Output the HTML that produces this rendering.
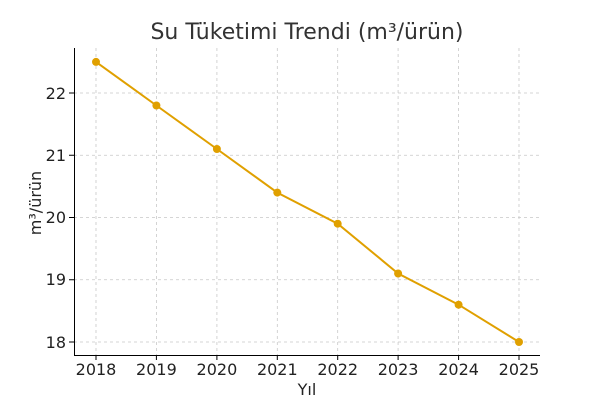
<!DOCTYPE html>
<html><head><meta charset="utf-8"><style>body{margin:0;background:#fff}svg{display:block}</style></head>
<body>
<svg width="600" height="400" xmlns="http://www.w3.org/2000/svg" font-family="DejaVu Sans, Liberation Sans, sans-serif">
<rect width="600" height="400" fill="#fff"/>
<g stroke="#c8c8c8" stroke-width="0.8" stroke-dasharray="3,3">
<line x1="96" y1="48" x2="96" y2="355"/><line x1="156.4" y1="48" x2="156.4" y2="355"/><line x1="216.9" y1="48" x2="216.9" y2="355"/><line x1="277.3" y1="48" x2="277.3" y2="355"/><line x1="337.7" y1="48" x2="337.7" y2="355"/><line x1="398.1" y1="48" x2="398.1" y2="355"/><line x1="458.6" y1="48" x2="458.6" y2="355"/><line x1="519" y1="48" x2="519" y2="355"/>
<line x1="74" y1="93" x2="540" y2="93"/><line x1="74" y1="155.25" x2="540" y2="155.25"/><line x1="74" y1="217.5" x2="540" y2="217.5"/><line x1="74" y1="279.75" x2="540" y2="279.75"/><line x1="74" y1="342" x2="540" y2="342"/>
</g>
<g stroke="#000" stroke-width="1">
<line x1="74.5" y1="48" x2="74.5" y2="355.5"/><line x1="74" y1="355.5" x2="540" y2="355.5"/>
<line x1="96" y1="355" x2="96" y2="360"/><line x1="156.4" y1="355" x2="156.4" y2="360"/><line x1="216.9" y1="355" x2="216.9" y2="360"/><line x1="277.3" y1="355" x2="277.3" y2="360"/><line x1="337.7" y1="355" x2="337.7" y2="360"/><line x1="398.1" y1="355" x2="398.1" y2="360"/><line x1="458.6" y1="355" x2="458.6" y2="360"/><line x1="519" y1="355" x2="519" y2="360"/>
<line x1="69" y1="93" x2="74" y2="93"/><line x1="69" y1="155.25" x2="74" y2="155.25"/><line x1="69" y1="217.5" x2="74" y2="217.5"/><line x1="69" y1="279.75" x2="74" y2="279.75"/><line x1="69" y1="342" x2="74" y2="342"/>
</g>
<polyline fill="none" stroke="#e0a000" stroke-width="2" points="96,61.9 156.4,105.5 216.9,149 277.3,192.6 337.7,223.7 398.1,273.5 458.6,304.7 519,342"/>
<g fill="#e0a000">
<circle cx="96" cy="61.9" r="4"/><circle cx="156.4" cy="105.5" r="4"/><circle cx="216.9" cy="149" r="4"/><circle cx="277.3" cy="192.6" r="4"/><circle cx="337.7" cy="223.7" r="4"/><circle cx="398.1" cy="273.5" r="4"/><circle cx="458.6" cy="304.7" r="4"/><circle cx="519" cy="342" r="4"/>
</g>
<g font-size="16" fill="#222" text-anchor="middle">
<text x="96" y="375">2018</text><text x="156.4" y="375">2019</text><text x="216.9" y="375">2020</text><text x="277.3" y="375">2021</text><text x="337.7" y="375">2022</text><text x="398.1" y="375">2023</text><text x="458.6" y="375">2024</text><text x="519" y="375">2025</text>
</g>
<g font-size="16" fill="#222" text-anchor="end">
<text x="66" y="99">22</text><text x="66" y="161">21</text><text x="66" y="223">20</text><text x="66" y="285">19</text><text x="66" y="348">18</text>
</g>
<text x="307" y="395" font-size="16" fill="#222" text-anchor="middle">Yıl</text>
<text transform="translate(41,203) rotate(-90)" font-size="16" fill="#222" text-anchor="middle">m³/ürün</text>
<text x="307" y="39" font-size="22" fill="#333" text-anchor="middle">Su Tüketimi Trendi (m³/ürün)</text>
</svg>
</body></html>
